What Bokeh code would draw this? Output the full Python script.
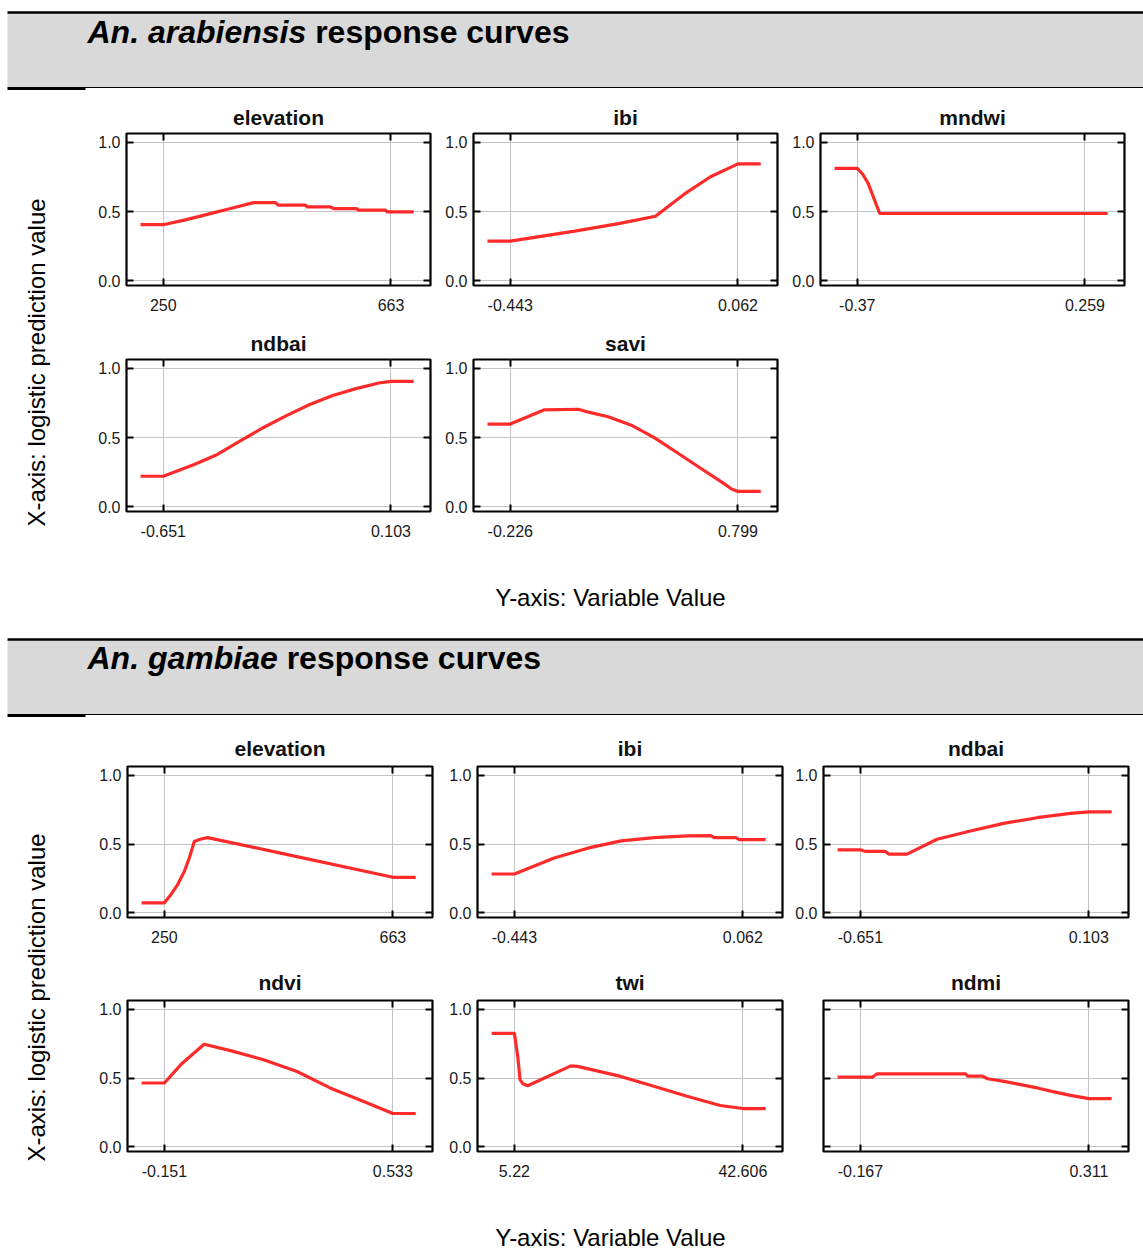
import math
from bokeh.plotting import figure
from bokeh.layouts import column, row
from bokeh.models import Range1d, FixedTicker, LinearAxis, Spacer, NumeralTickFormatter
from bokeh.core.properties import value
from bokeh.embed import file_html
from bokeh.resources import INLINE

FONT = "Liberation Sans"

# ---------------- Data: An. arabiensis ----------------
A_names = ["elevation", "ibi", "mndwi", "ndbai", "savi"]
A_tick_lo = [250, -0.443, -0.37, -0.651, -0.226]
A_tick_hi = [663, 0.062, 0.259, 0.103, 0.799]
A_lab_lo = ["250", "-0.443", "-0.37", "-0.651", "-0.226"]
A_lab_hi = ["663", "0.062", "0.259", "0.103", "0.799"]

A_elev_x = [208.7, 250, 290, 330, 370, 414, 453, 459, 508, 511, 553, 559, 601, 604, 653, 656, 704.3]
A_elev_y = [0.405, 0.405, 0.44, 0.48, 0.52, 0.565, 0.565, 0.546, 0.546, 0.534, 0.534, 0.522, 0.522, 0.510, 0.510, 0.498, 0.498]
A_ibi_x = [-0.4935, -0.443, -0.3, -0.2, -0.121, -0.058, 0.001, 0.062, 0.1125]
A_ibi_y = [0.286, 0.286, 0.358, 0.415, 0.466, 0.624, 0.752, 0.845, 0.845]
A_mndwi_x = [-0.4329, -0.37, -0.355, -0.34, -0.308, 0.3219]
A_mndwi_y = [0.813, 0.813, 0.77, 0.704, 0.486, 0.486]
A_ndbai_x = [-0.7264, -0.651, -0.5485, -0.472, -0.396, -0.319, -0.243, -0.166, -0.090, -0.013, 0.063, 0.103, 0.1784]
A_ndbai_y = [0.22, 0.22, 0.305, 0.378, 0.476, 0.573, 0.659, 0.739, 0.805, 0.854, 0.895, 0.907, 0.907]
A_savi_x = [-0.3285, -0.226, -0.075, 0.0805, 0.1115, 0.215, 0.319, 0.422, 0.526, 0.629, 0.733, 0.77, 0.799, 0.9015]
A_savi_y = [0.598, 0.598, 0.70, 0.705, 0.69, 0.651, 0.59, 0.5, 0.39, 0.28, 0.17, 0.128, 0.11, 0.11]

# ---------------- Data: An. gambiae ----------------
G_names = ["elevation", "ibi", "ndbai", "ndvi", "twi", "ndmi"]
G_tick_lo = [250, -0.443, -0.651, -0.151, 5.22, -0.167]
G_tick_hi = [663, 0.062, 0.103, 0.533, 42.606, 0.311]
G_lab_lo = ["250", "-0.443", "-0.651", "-0.151", "5.22", "-0.167"]
G_lab_hi = ["663", "0.062", "0.103", "0.533", "42.606", "0.311"]

G_elev_x = [208.7, 250, 262, 274, 286, 295, 304, 316, 328, 460, 663, 704.3]
G_elev_y = [0.072, 0.072, 0.133, 0.205, 0.301, 0.398, 0.518, 0.537, 0.547, 0.434, 0.258, 0.258]
G_ibi_x = [-0.4935, -0.443, -0.355, -0.281, -0.207, -0.134, -0.060, -0.009, -0.0013, 0.0465, 0.054, 0.062, 0.1125]
G_ibi_y = [0.282, 0.282, 0.398, 0.47, 0.523, 0.547, 0.559, 0.561, 0.547, 0.547, 0.533, 0.533, 0.533]
G_ndbai_x = [-0.7264, -0.651, -0.6345, -0.5685, -0.5574, -0.497, -0.398, -0.288, -0.178, -0.068, 0.0424, 0.103, 0.1784]
G_ndbai_y = [0.458, 0.458, 0.446, 0.446, 0.427, 0.427, 0.535, 0.595, 0.651, 0.692, 0.723, 0.735, 0.735]
G_ndvi_x = [-0.2194, -0.151, -0.101, -0.032, 0.047, 0.146, 0.246, 0.345, 0.444, 0.533, 0.6014]
G_ndvi_y = [0.464, 0.464, 0.6, 0.746, 0.70, 0.633, 0.548, 0.428, 0.331, 0.242, 0.242]
G_twi_x = [1.4814, 5.22, 5.763, 6.144, 6.579, 7.394, 14.458, 15.545, 22.609, 28.043, 33.477, 38.911, 42.606, 46.3446]
G_twi_y = [0.826, 0.826, 0.657, 0.488, 0.459, 0.444, 0.589, 0.585, 0.512, 0.44, 0.367, 0.30, 0.278, 0.278]
G_ndmi_x = [-0.2148, -0.167, -0.1413, -0.1322, 0.0536, 0.057, 0.0884, 0.0988, 0.1336, 0.1684, 0.2032, 0.238, 0.2727, 0.311, 0.3588]
G_ndmi_y = [0.507, 0.507, 0.507, 0.531, 0.531, 0.514, 0.514, 0.495, 0.476, 0.452, 0.428, 0.399, 0.374, 0.35, 0.35]

Y_TICKS = [0, 0.5, 1.0]

FR_LO, FR_HI = 0.121, 0.870
Y_LO, Y_HI = -0.035, 1.065
PAGE_W = 1143


def style_axis(ax, show):
    ax.axis_line_color = None
    ax.major_tick_in = 7
    ax.major_tick_out = 0
    ax.major_tick_line_width = 2
    ax.major_tick_line_color = "black"
    ax.minor_tick_line_color = None
    ax.major_label_text_font = FONT
    ax.major_label_text_color = "#1a1a1a"
    ax.major_label_text_font_size = "16px" if show else "0px"
    if not show:
        ax.major_label_standoff = 0


def panel(title, lo, hi, lo_lab, hi_lab, xs, ys, w, h, bl, br, bt, bb, tstand, xstand, ylabels=True):
    span = (hi - lo) / (FR_HI - FR_LO)
    x0 = lo - FR_LO * span
    p = figure(width=w, height=h, x_range=Range1d(x0, x0 + span), y_range=Range1d(Y_LO, Y_HI),
               output_backend="svg", toolbar_location=None, title=title,
               min_border_left=bl, min_border_right=br, min_border_top=bt, min_border_bottom=bb)
    p.title.align = "center"
    p.title.text_font = FONT
    p.title.text_font_size = "21px"
    p.title.text_font_style = "bold"
    p.title.text_color = "#111111"
    p.title.standoff = tstand
    p.outline_line_color = "black"
    p.outline_line_width = 2.2
    p.background_fill_color = "white"
    p.border_fill_color = "white"

    xt = FixedTicker(ticks=[lo, hi])
    yt = FixedTicker(ticks=Y_TICKS)
    p.xaxis.ticker = xt
    p.xaxis.major_label_overrides = {lo: lo_lab, hi: hi_lab}
    p.yaxis.ticker = yt
    p.yaxis.formatter = NumeralTickFormatter(format="0.0")
    style_axis(p.xaxis[0], True)
    style_axis(p.yaxis[0], True)
    p.xaxis.major_label_standoff = xstand
    p.yaxis.major_label_standoff = 6
    if not ylabels:
        p.yaxis.major_label_overrides = {0: "", 0.5: "", 1.0: ""}

    top = LinearAxis(ticker=FixedTicker(ticks=[lo, hi]))
    style_axis(top, False)
    top.major_label_overrides = {lo: "", hi: ""}
    p.add_layout(top, "above")
    right = LinearAxis(ticker=FixedTicker(ticks=Y_TICKS))
    style_axis(right, False)
    right.major_label_overrides = {0: "", 0.5: "", 1.0: ""}
    p.add_layout(right, "right")

    p.xgrid.ticker = xt
    p.ygrid.ticker = yt
    p.xgrid.grid_line_color = "#c4c4c4"
    p.ygrid.grid_line_color = "#c4c4c4"

    p.line(xs, ys, line_color="#ff1414", line_width=3.2, line_alpha=0.9)
    return p


def blank_fig(w, h):
    p = figure(width=w, height=h, x_range=Range1d(0, w), y_range=Range1d(h, 0),
               output_backend="svg", toolbar_location=None, min_border=0,
               x_axis_location=None, y_axis_location=None)
    p.grid.visible = False
    p.outline_line_color = None
    p.background_fill_color = "white"
    p.border_fill_color = "white"
    return p


def header(species, species_em, h, band_top, band_bot, base, fs):
    p = blank_fig(PAGE_W, h)
    p.quad(left=[7], right=[PAGE_W], top=[band_top], bottom=[band_bot], fill_color="#d9d9d9", line_color=None)
    p.segment(x0=[7], y0=[band_top], x1=[PAGE_W], y1=[band_top], line_color="black", line_width=2.5)
    p.segment(x0=[7], y0=[band_bot], x1=[PAGE_W], y1=[band_bot], line_color="black", line_width=1.2)
    p.segment(x0=[7], y0=[band_bot + 1.5], x1=[85], y1=[band_bot + 1.5], line_color="black", line_width=2.2)
    p.text(x=[87], y=[base], text=[species], text_font=value(FONT), text_font_style="bold italic",
           text_font_size=f"{fs}px", text_baseline="alphabetic", text_color="black")
    p.text(x=[87 + species_em * fs], y=[base], text=["response curves"], text_font=value(FONT),
           text_font_style="bold", text_font_size=f"{fs}px", text_baseline="alphabetic", text_color="black")
    return p


def ylabel_fig(w, h, cx, cy):
    p = blank_fig(w, h)
    p.text(x=[cx], y=[cy], text=["X-axis: logistic prediction value"], angle=math.pi / 2,
           text_align="center", text_baseline="middle", text_font=value(FONT),
           text_font_size="24px", text_color="black")
    return p


def xlabel_fig(h, cx, cy):
    p = blank_fig(PAGE_W, h)
    p.text(x=[cx], y=[cy], text=["Y-axis: Variable Value"], text_align="center", text_baseline="middle",
           text_font=value(FONT), text_font_size="24px", text_color="black")
    return p


# ---------------- Section 1 ----------------
A_xs = [A_elev_x, A_ibi_x, A_mndwi_x, A_ndbai_x, A_savi_x]
A_ys = [A_elev_y, A_ibi_y, A_mndwi_y, A_ndbai_y, A_savi_y]
A_geom = [(347, 38, 5), (347, 38, 5), (361, 38, 19)]
A_panels = []
for i in range(5):
    w, bl, br = A_geom[i % 3]
    A_panels.append(panel(A_names[i], A_tick_lo[i], A_tick_hi[i], A_lab_lo[i], A_lab_hi[i],
                          A_xs[i], A_ys[i], w, 226, bl, br, 40, 34, 10, 13))

h1 = header("An. arabiensis", 7.114, 93, 12, 87, 31, 32)
sec1 = row(ylabel_fig(88, 452, 36, 269),
           column(row(*A_panels[0:3]), row(A_panels[3], A_panels[4], Spacer(width=361, height=226))))
xl1 = xlabel_fig(83, 610, 52)

# ---------------- Section 2 ----------------
G_xs = [G_elev_x, G_ibi_x, G_ndbai_x, G_ndvi_x, G_twi_x, G_ndmi_x]
G_ys = [G_elev_y, G_ibi_y, G_ndbai_y, G_ndvi_y, G_twi_y, G_ndmi_y]
G_geom = [(349, 39, 5), (350, 40, 5), (356, 36, 15)]
G_panels = []
for i in range(6):
    w, bl, br = G_geom[i % 3]
    G_panels.append(panel(G_names[i], G_tick_lo[i], G_tick_hi[i], G_lab_lo[i], G_lab_hi[i],
                          G_xs[i], G_ys[i], w, 234, bl, br, 40, 43, 13, 13, ylabels=(i != 5)))

h2 = header("An. gambiae", 6.224, 98, 11, 86, 29, 32)
sec2 = row(ylabel_fig(88, 468, 36, 271),
           column(row(*G_panels[0:3]), row(*G_panels[3:6])))
xl2 = xlabel_fig(56, 610, 43)

layout = column(h1, sec1, xl1, h2, sec2, xl2)

open("out.html", "w").write(file_html(layout, INLINE))
